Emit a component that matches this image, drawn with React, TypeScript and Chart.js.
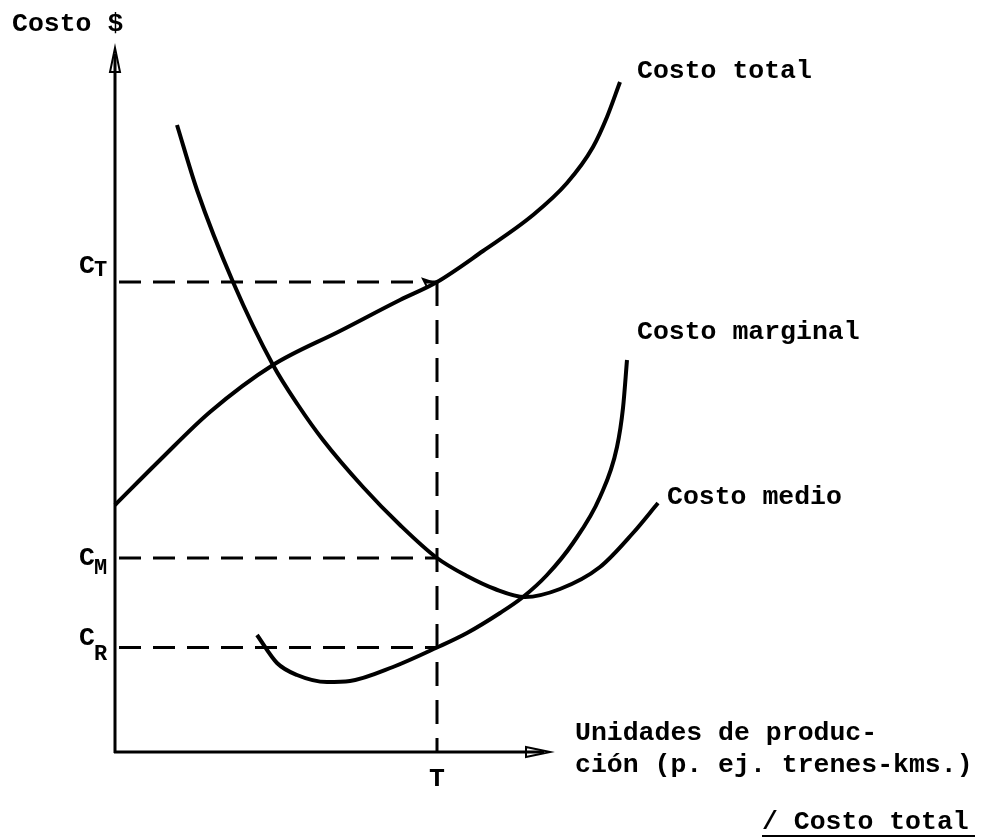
import React, { useEffect, useRef } from "react";
import { Chart, registerables } from "chart.js";

Chart.register(...registerables);

// Units: production (x) and cost (y), arbitrary units
const totalX = [0, 4.5, 9.5, 15.8, 22.5, 28.5, 32.2, 36.8, 41.8, 45.2, 47.8, 49.2, 50.5];
const totalY = [24.7, 29.2, 34.0, 38.7, 42.1, 45.2, 47.0, 50.1, 53.7, 56.9, 60.5, 63.5, 67.0];

const medioX = [6.2, 8.2, 11.8, 15.8, 18.3, 20.8, 24.8, 28.5, 32.2, 35.2, 38.0, 41.0, 44.5, 48.5, 51.8, 54.3];
const medioY = [62.7, 56.2, 47.0, 38.7, 34.7, 31.2, 26.5, 22.7, 19.4, 17.6, 16.3, 15.5, 16.3, 18.5, 21.9, 24.9];

const marginalX = [14.2, 16.2, 18.2, 21.2, 23.5, 27.8, 32.2, 35.2, 38.5, 40.8, 43.2, 45.8, 48.5, 50.2, 50.8, 51.2];
const marginalY = [11.7, 8.9, 7.7, 7.0, 7.1, 8.5, 10.45, 11.9, 13.9, 15.5, 17.7, 20.9, 25.5, 30.5, 34.4, 39.2];

const T_VALUE = 32.2;
const C_T = 47.0;
const C_M = 19.4;
const C_R = 10.45;

const X_MAX = 76;
const Y_MAX = 70.4;
const X_AXIS_END = 43.5;

const seriesNames = ["Costo total", "Costo medio", "Costo marginal"];

const FONT = '"Liberation Mono", "DejaVu Sans Mono", monospace';

const toPoints = (xs: number[], ys: number[]) => xs.map((x, i) => ({ x, y: ys[i] }));

const diagramPlugin = {
  id: "diagram",
  afterDatasetsDraw(chart: any) {
    const { ctx } = chart;
    const xs = chart.scales.x;
    const ys = chart.scales.y;
    const px = (v: number) => xs.getPixelForValue(v);
    const py = (v: number) => ys.getPixelForValue(v);
    const ox = px(0);
    const oy = py(0);

    ctx.save();
    ctx.strokeStyle = "#000";
    ctx.fillStyle = "#000";
    ctx.lineCap = "butt";

    // Axes
    ctx.lineWidth = 3;
    ctx.setLineDash([]);
    ctx.beginPath();
    ctx.moveTo(ox, oy + 1);
    ctx.lineTo(ox, py(Y_MAX) + 6);
    ctx.moveTo(ox - 1, oy);
    ctx.lineTo(px(X_AXIS_END) - 6, oy);
    ctx.stroke();

    // arrowheads (open triangles)
    ctx.lineWidth = 2;
    const ty = py(Y_MAX);
    ctx.beginPath();
    ctx.moveTo(ox, ty);
    ctx.lineTo(ox - 5, ty + 24);
    ctx.lineTo(ox + 5, ty + 24);
    ctx.closePath();
    ctx.stroke();
    const tx = px(X_AXIS_END);
    ctx.beginPath();
    ctx.moveTo(tx, oy);
    ctx.lineTo(tx - 24, oy - 5);
    ctx.lineTo(tx - 24, oy + 5);
    ctx.closePath();
    ctx.stroke();

    // Dashed guides
    ctx.lineWidth = 3;
    ctx.setLineDash([22, 12]);
    const tX = px(T_VALUE);
    [C_T, C_M, C_R].forEach((c) => {
      ctx.beginPath();
      ctx.moveTo(ox + 4, py(c));
      ctx.lineTo(tX, py(c));
      ctx.stroke();
    });
    ctx.setLineDash([24, 14]);
    ctx.beginPath();
    ctx.moveTo(tX, py(C_T));
    ctx.lineTo(tX, oy);
    ctx.stroke();
    ctx.setLineDash([]);

    // small arrowhead at C_T meeting point
    ctx.lineWidth = 2;
    ctx.beginPath();
    ctx.moveTo(tX - 2, py(C_T) + 1);
    ctx.lineTo(tX - 14, py(C_T) - 3);
    ctx.lineTo(tX - 10, py(C_T) + 5);
    ctx.closePath();
    ctx.stroke();

    // Text
    ctx.textBaseline = "middle";
    ctx.textAlign = "left";
    const big = `bold 26.5px ${FONT}`;
    const sub = `bold 22px ${FONT}`;
    const label = (t: string, x: number, y: number, f = big, align: CanvasTextAlign = "left") => {
      ctx.font = f;
      ctx.textAlign = align;
      ctx.fillText(t, x, y);
    };

    label("Costo $", 12, 24);
    label(seriesNames[0], 637, 71);
    label(seriesNames[2], 637, 332);
    label(seriesNames[1], 667, 497);

    // y tick labels with subscripts
    const cx = ox - 36;
    const cLabel = (s: string, c: number, dC: number, dS: number) => {
      label("C", cx, py(c) + dC);
      label(s, cx + 15, py(c) + dS, sub);
    };
    cLabel("T", C_T, -16, -12);
    cLabel("M", C_M, 0, 10);
    cLabel("R", C_R, -9, 7);

    // x tick label
    label("T", tX, oy + 27, big, "center");

    // x axis title
    label("Unidades de produc-", 575, oy - 19);
    label("ción (p. ej. trenes-kms.)", 575, oy + 13);

    // footer
    label("/ Costo total", 762, 822);
    ctx.lineWidth = 2;
    ctx.beginPath();
    ctx.moveTo(762, 836);
    ctx.lineTo(975, 836);
    ctx.stroke();

    ctx.restore();
  },
};

export default function App() {
  const ref = useRef<HTMLCanvasElement | null>(null);

  useEffect(() => {
    if (!ref.current) return;
    const common = {
      borderColor: "#000",
      borderWidth: 4,
      pointRadius: 0,
      fill: false,
      cubicInterpolationMode: "monotone" as const,
      clip: false as any,
    };
    const chart = new Chart(ref.current, {
      type: "line",
      data: {
        datasets: [
          { label: seriesNames[0], data: toPoints(totalX, totalY), ...common },
          { label: seriesNames[1], data: toPoints(medioX, medioY), ...common },
          { label: seriesNames[2], data: toPoints(marginalX, marginalY), ...common },
        ],
      },
      options: {
        animation: false,
        responsive: false,
        devicePixelRatio: 1,
        layout: { padding: { left: 115, right: 108, top: 48, bottom: 86 } },
        scales: {
          x: { type: "linear", display: false, min: 0, max: X_MAX },
          y: { type: "linear", display: false, min: 0, max: Y_MAX },
        },
        plugins: { legend: { display: false }, tooltip: { enabled: false } },
      },
      plugins: [diagramPlugin],
    });
    return () => chart.destroy();
  }, []);

  return (
    <div style={{ position: "absolute", left: 0, top: 0, width: 983, height: 838, background: "#fff" }}>
      <canvas ref={ref} width={983} height={838} style={{ width: 983, height: 838, display: "block" }} />
    </div>
  );
}
